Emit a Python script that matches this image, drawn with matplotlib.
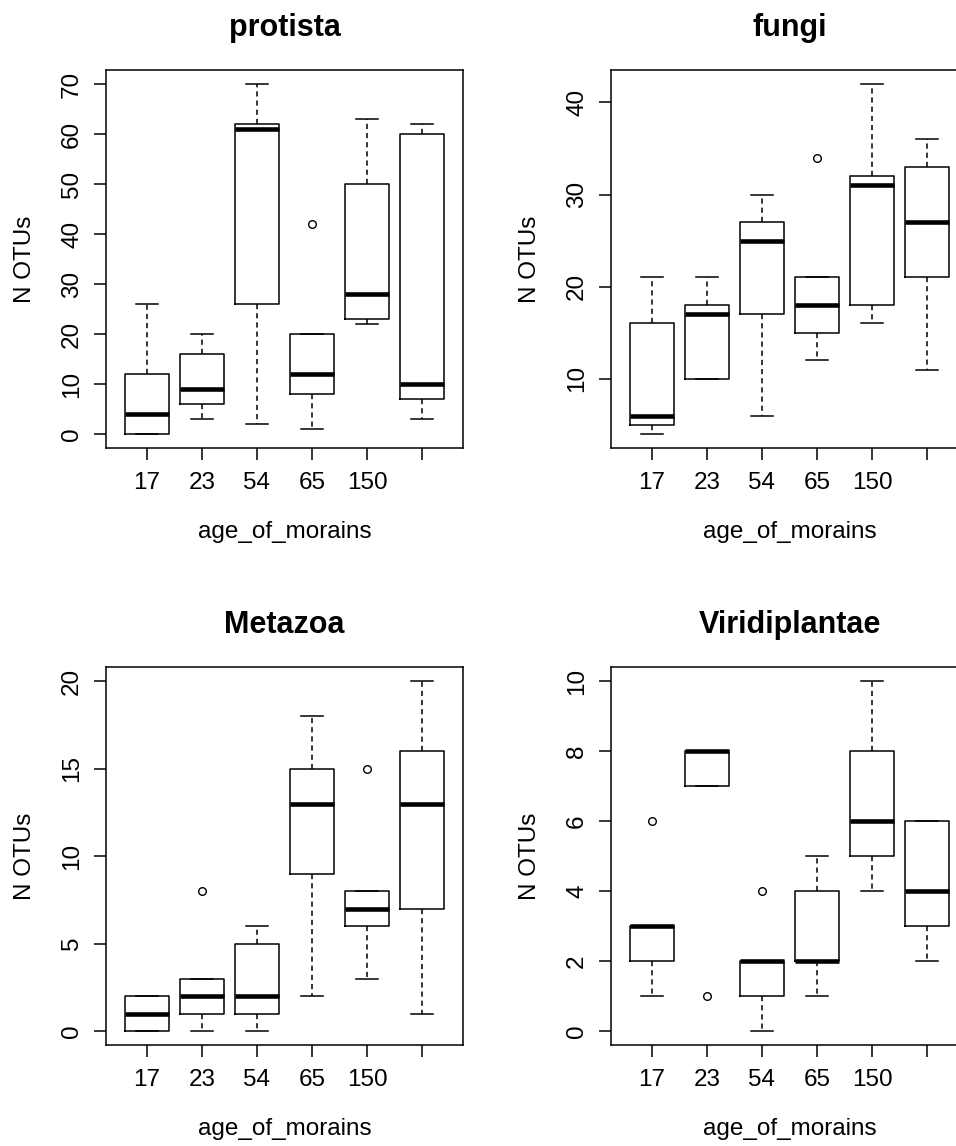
import numpy as np
import matplotlib
matplotlib.use('Agg')
import matplotlib.pyplot as plt

plt.rcParams['font.family'] = 'Liberation Sans'

ages = ['17', '23', '54', '65', '150', '']

# per-group box stats: whisker low, q1, median, q3, whisker high
protista_lo = [0, 3, 2, 1, 22, 3]
protista_q1 = [0, 6, 26, 8, 23, 7]
protista_med = [4, 9, 61, 12, 28, 10]
protista_q3 = [12, 16, 62, 20, 50, 60]
protista_hi = [26, 20, 70, 20, 63, 62]
protista_out = [[], [], [], [42], [], []]
protista_ticks = [0, 10, 20, 30, 40, 50, 60, 70]

fungi_lo = [4, 10, 6, 12, 16, 11]
fungi_q1 = [5, 10, 17, 15, 18, 21]
fungi_med = [6, 17, 25, 18, 31, 27]
fungi_q3 = [16, 18, 27, 21, 32, 33]
fungi_hi = [21, 21, 30, 21, 42, 36]
fungi_out = [[], [], [], [34], [], []]
fungi_ticks = [10, 20, 30, 40]

metazoa_lo = [0, 0, 0, 2, 3, 1]
metazoa_q1 = [0, 1, 1, 9, 6, 7]
metazoa_med = [1, 2, 2, 13, 7, 13]
metazoa_q3 = [2, 3, 5, 15, 8, 16]
metazoa_hi = [2, 3, 6, 18, 8, 20]
metazoa_out = [[], [8], [], [], [15], []]
metazoa_ticks = [0, 5, 10, 15, 20]

viridi_lo = [1, 7, 0, 1, 4, 2]
viridi_q1 = [2, 7, 1, 2, 5, 3]
viridi_med = [3, 8, 2, 2, 6, 4]
viridi_q3 = [3, 8, 2, 4, 8, 6]
viridi_hi = [3, 8, 2, 5, 10, 6]
viridi_out = [[6], [1], [4], [], [], []]
viridi_ticks = [0, 2, 4, 6, 8, 10]

panels = [
    ('protista', protista_lo, protista_q1, protista_med, protista_q3, protista_hi, protista_out, protista_ticks),
    ('fungi', fungi_lo, fungi_q1, fungi_med, fungi_q3, fungi_hi, fungi_out, fungi_ticks),
    ('Metazoa', metazoa_lo, metazoa_q1, metazoa_med, metazoa_q3, metazoa_hi, metazoa_out, metazoa_ticks),
    ('Viridiplantae', viridi_lo, viridi_q1, viridi_med, viridi_q3, viridi_hi, viridi_out, viridi_ticks),
]

W, H = 956, 1146
fig = plt.figure(figsize=(W / 100, H / 100), dpi=100)

# axes boxes in pixels (left, top); right column runs past the image edge like the original
aw, ah = 357, 378
origins = [(106, 70), (611, 70), (106, 667), (611, 667)]

for (title, lo, q1, med, q3, hi, out, yt), (x0, y0) in zip(panels, origins):
    ax = fig.add_axes([x0 / W, 1 - (y0 + ah) / H, aw / W, ah / H])
    stats = []
    for i in range(len(ages)):
        stats.append(dict(whislo=lo[i], q1=q1[i], med=med[i], q3=q3[i],
                          whishi=hi[i], fliers=out[i]))
    ax.bxp(stats, positions=range(1, len(ages) + 1), widths=0.8, capwidths=0.4,
           boxprops=dict(color='black', linewidth=1.1),
           medianprops=dict(color='black', linewidth=3.3, solid_capstyle='butt'),
           whiskerprops=dict(color='black', linewidth=1.1, linestyle=(0, (3.4, 2.6))),
           capprops=dict(color='black', linewidth=1.1),
           flierprops=dict(marker='o', markersize=5.5, markerfacecolor='none',
                           markeredgecolor='black', markeredgewidth=1.0))

    allv = lo + hi + [v for f in out for v in f]
    vmin, vmax = min(allv), max(allv)
    pad = (vmax - vmin) * 0.04
    ax.set_ylim(vmin - pad, vmax + pad)
    ax.set_xlim(0.26, 6.74)

    ax.set_yticks(yt)
    ax.set_xticks(range(1, len(ages) + 1))
    ax.set_xticklabels(ages)
    for s in ax.spines.values():
        s.set_linewidth(1.1)
    ax.tick_params(direction='out', length=8.5, width=1.1, labelsize=17.5)
    ax.tick_params(axis='x', pad=9)
    ax.tick_params(axis='y', pad=8)
    for lab in ax.get_yticklabels():
        lab.set_rotation(90)
        lab.set_va('center')

    ax.set_title(title, fontsize=22, fontweight='bold', y=1.111, va='center', pad=0)
    ax.set_xlabel('age_of_morains', fontsize=17.5)
    ax.set_ylabel('N OTUs', fontsize=17.5)
    ax.xaxis.set_label_coords(0.5, -0.222, transform=ax.transAxes)
    ax.yaxis.set_label_coords(-0.226, 0.5, transform=ax.transAxes)
    ax.xaxis.label.set_va('center')
    ax.yaxis.label.set_va('center')

fig.savefig('out.png', dpi=100)
